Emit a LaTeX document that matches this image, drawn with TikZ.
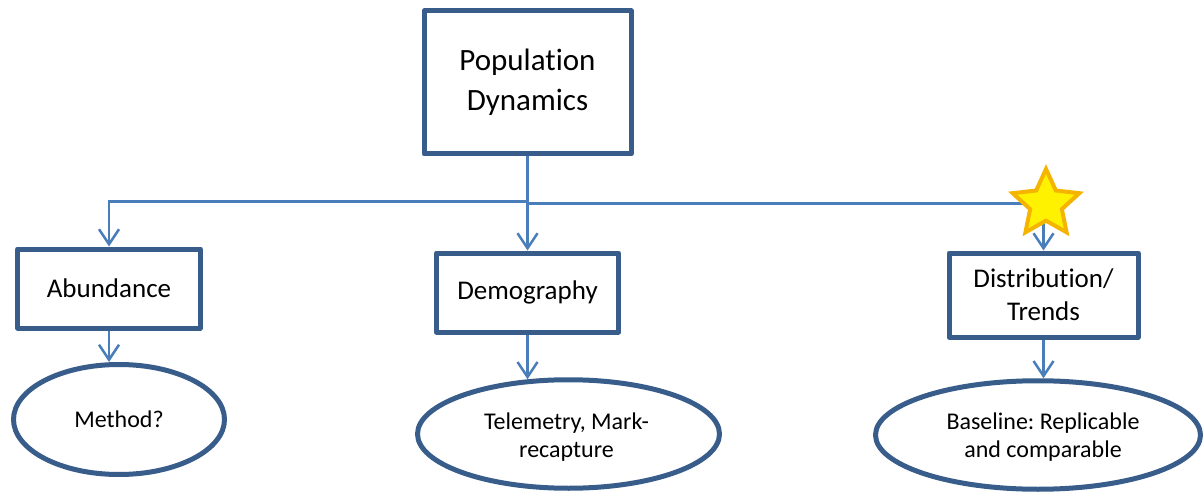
\documentclass[tikz,border=0pt]{standalone}
\usepackage{fontspec}
\setmainfont[Ligatures=NoCommon]{Carlito}
\usetikzlibrary{shapes.geometric,arrows.meta}
\definecolor{boxblue}{HTML}{385D8A}
\definecolor{linkblue}{HTML}{4A7EBB}
\definecolor{stargold}{HTML}{F5B400}
\frenchspacing
\begin{document}
\begin{tikzpicture}[x=1pt,y=-1pt,
 box/.style={draw=boxblue, line width=5pt, line join=round, rectangle, inner sep=0pt, align=center, fill=white},
 oval/.style={draw=boxblue, line width=5pt, ellipse, inner sep=0pt, align=center, fill=white},
 boxtext/.style={font=\fontsize{27}{33}\selectfont},
 ovaltext/.style={font=\fontsize{24}{28}\selectfont},
 link/.style={draw=linkblue, line width=2.5pt, -{Straight Barb[length=15pt,width=20pt]}},
]
\useasboundingbox (0,0) rectangle (1203,492);
% boxes
\node[box, minimum width=207pt, minimum height=143pt, font=\fontsize{31}{40}\selectfont] (top) at (527.5,82.5) {Population\\Dynamics};
\node[box, boxtext, minimum width=182.5pt, minimum height=79pt] (abund) at (109,288.5) {Abundance};
\node[box, boxtext, minimum width=182pt, minimum height=79pt] (demo) at (527.5,292.5) {Demography};
\node[box, boxtext, minimum width=189pt, minimum height=84pt] (distr) at (1043.5,295) {Distribution/\\Trends};
% ovals
\node[oval, ovaltext, minimum width=211pt, minimum height=110pt] (meth) at (119,419.5) {Method?};
\node[oval, minimum width=302pt, minimum height=108.5pt] (tele) at (568.5,434) {};
\node[ovaltext, align=center] at ([xshift=-2pt,yshift=-3pt]tele.center) {Telemetry, Mark-\\recapture};
\node[oval, minimum width=325pt, minimum height=108.5pt] (base) at (1038,435) {};
\node[ovaltext, align=center] at ([xshift=5pt,yshift=-2pt]base.center) {Baseline: Replicable\\and comparable};
% connectors
\coordinate (jl) at (527.5,201.7);
\coordinate (jr) at (527.5,203.3);
\draw[link] (top.south) -- (demo.north);
\draw[link] (jl) -| (abund.north);
\draw[link] (jr) -| (distr.north);
\draw[link] (abund.south) -- (abund.south |- meth.north);
\draw[link] (demo.south) -- ([yshift=-2pt]demo.south |- tele.north);
\draw[link] (distr.south) -- (distr.south |- base.north);
% star
\node[star, star points=5, star point ratio=2.1, minimum size=70pt, inner sep=0pt, draw=stargold, line width=4pt, fill=yellow] (star) at (1046,204) {};
\end{tikzpicture}
\end{document}
